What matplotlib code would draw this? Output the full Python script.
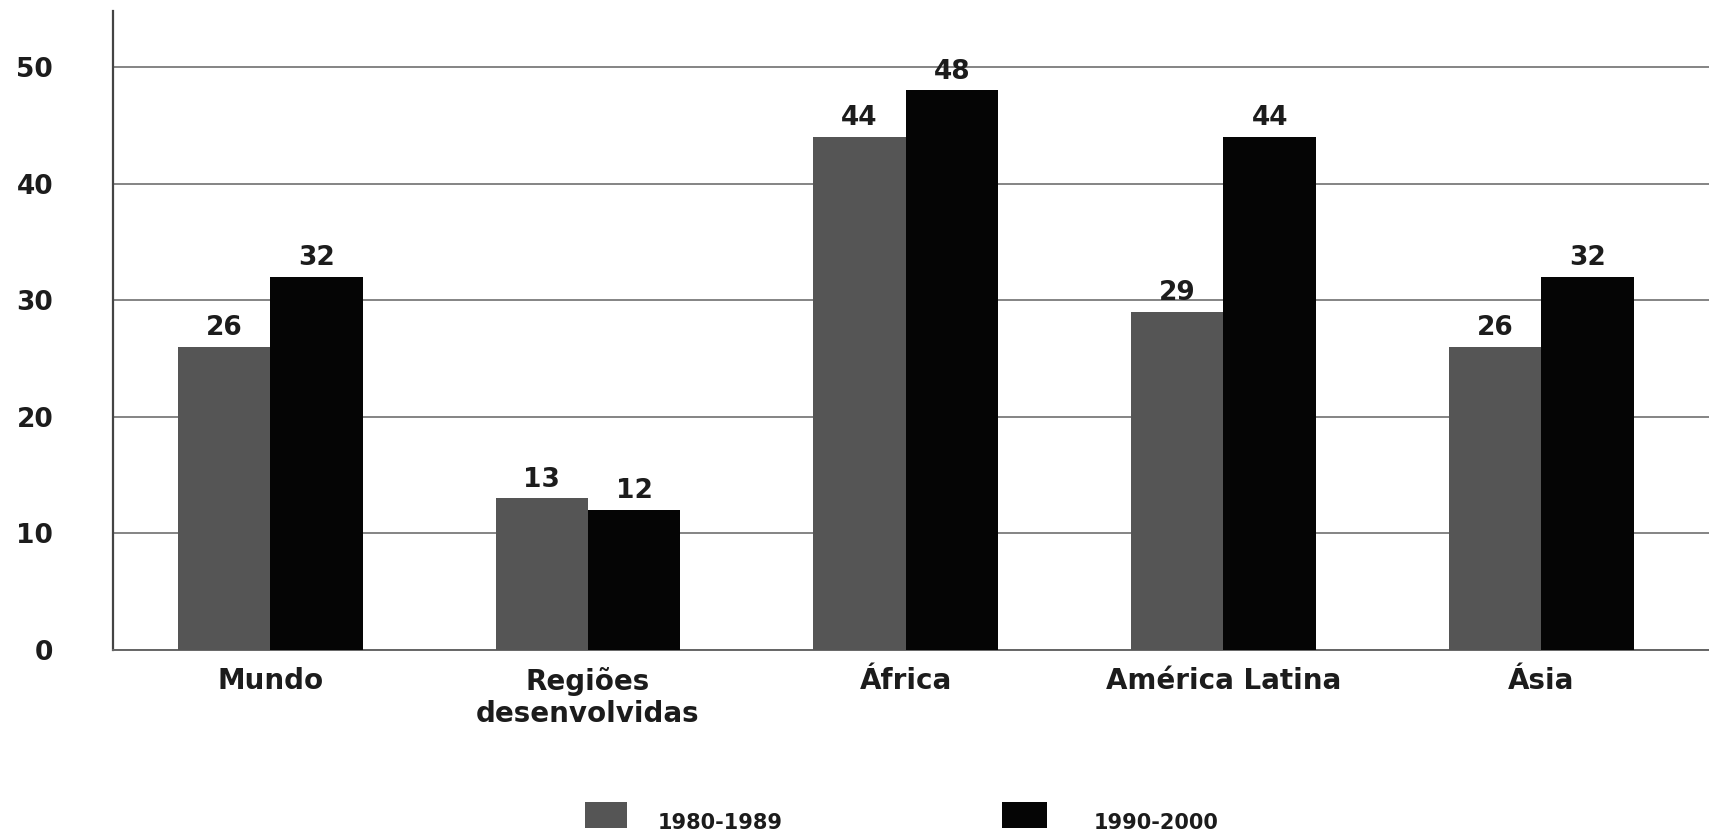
import matplotlib
matplotlib.use("Agg")
import matplotlib.pyplot as plt
from matplotlib.patches import Rectangle
import numpy as np

# Regions and values for the two periods
categories = ["Mundo", "Regiões\ndesenvolvidas", "África", "América Latina", "Ásia"]
periods = ["1980-1989", "1990-2000"]
values_1980s = [26, 13, 44, 29, 26]
values_1990s = [32, 12, 48, 44, 32]
yticks = [0, 10, 20, 30, 40, 50]

colors = ["#555555", "#050505"]
text_color = "#1c1c1c"

plt.rcParams["font.family"] = ["DejaVu Sans"]

fig = plt.figure(figsize=(17.09, 8.35), dpi=100)
ax = fig.add_axes([0.0661, 0.2216, 0.9339, 0.7652])

x = np.arange(len(categories))
width = 0.291

bars_a = ax.bar(x - width / 2, values_1980s, width, color=colors[0], zorder=3)
bars_b = ax.bar(x + width / 2, values_1990s, width, color=colors[1], zorder=3)

# value labels above each bar
for bars, vals in ((bars_a, values_1980s), (bars_b, values_1990s)):
    for b, v in zip(bars, vals):
        ax.annotate(str(v), (b.get_x() + b.get_width() / 2, v),
                    xytext=(0, 4), textcoords="offset points",
                    ha="center", va="bottom", fontsize=19,
                    fontweight="bold", color=text_color)

ax.set_xlim(-0.495, 4.528)
ax.set_ylim(0, 54.8)

ax.set_yticks(yticks)
ax.set_yticklabels([str(t) for t in yticks], fontsize=19,
                   fontweight="bold", color=text_color)
ax.tick_params(axis="y", length=0, pad=43)

ax.set_xticks(x)
ax.set_xticklabels(categories, fontsize=20, fontweight="bold",
                   color=text_color, linespacing=1.2)
ax.tick_params(axis="x", length=0, pad=12)

ax.yaxis.grid(True, color="#707070", linewidth=1.2, zorder=0)
ax.set_axisbelow(True)

for side in ("top", "right"):
    ax.spines[side].set_visible(False)
ax.spines["left"].set_color("#444444")
ax.spines["left"].set_linewidth(1.6)
ax.spines["bottom"].set_color("#666666")
ax.spines["bottom"].set_linewidth(1.4)

# legend row at the bottom of the figure
legend_items = [
    (0.3423, 0.0246, 0.385),
    (0.5863, 0.0263, 0.640),
]
for (x0, w, tx), c, label in zip(legend_items, colors, periods):
    fig.patches.append(Rectangle((x0, 0.0084), w, 0.0311, facecolor=c,
                                 edgecolor="none", transform=fig.transFigure,
                                 figure=fig))
    fig.text(tx, 0.0072, label, fontsize=15, fontweight="bold",
             color=text_color, ha="left", va="baseline")

fig.savefig("out.png", dpi=100, facecolor="white")
